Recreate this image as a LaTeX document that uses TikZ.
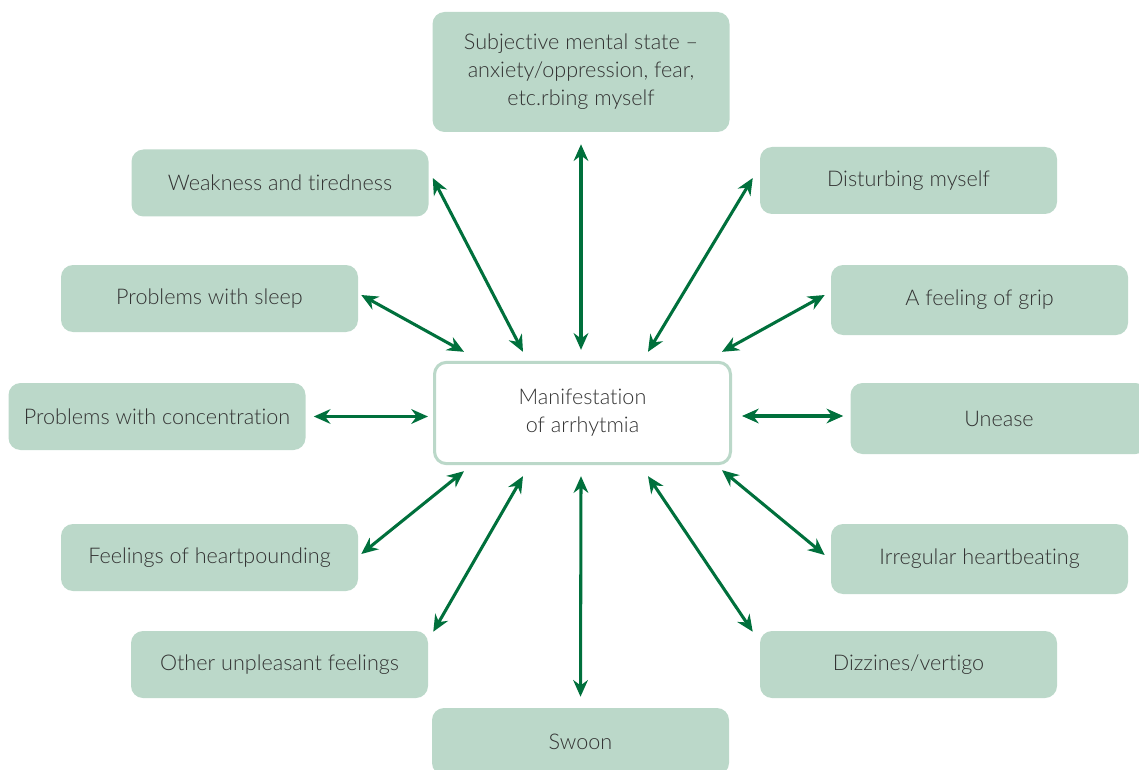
\documentclass[tikz,border=0pt]{standalone}
\usepackage{fontspec}
\setmainfont{Lato}[UprightFont=* Light,Ligatures=NoCommon]
\usetikzlibrary{arrows.meta}
\definecolor{boxfill}{HTML}{BBD8C9}
\definecolor{arrgreen}{HTML}{00703C}
\definecolor{txt}{HTML}{333333}
\begin{document}
\begin{tikzpicture}[x=0.75pt,y=-0.75pt,
  box/.style={fill=boxfill,draw=none,rounded corners=9pt,minimum width=222.75pt,minimum height=50.25pt,
    inner sep=0pt,align=center,text=txt,font=\fontsize{16.2}{21}\selectfont},
  hub/.style={fill=white,draw=boxfill,line width=2.25pt,rounded corners=9pt,minimum width=222pt,minimum height=76pt,
    inner sep=0pt,align=center,text=txt,font=\fontsize{16.2}{21}\selectfont},
  arr/.style={draw=arrgreen,line width=2.3pt,{Stealth[length=12.5pt,width=11pt]}-{Stealth[length=12.5pt,width=11pt]}}]
\useasboundingbox (0,0) rectangle (1139,770);
\node[hub] (c) at (582.5,413) {Manifestation\\of arrhytmia};
\node[box,minimum height=90pt] (t) at (581,72) {Subjective mental state –\\anxiety/oppression, fear,\\etc.rbing myself};
\node[box] (w) at (280,183) {Weakness and tiredness};
\node[box] (d) at (908.5,180.5) {Disturbing myself};
\node[box] (s) at (209.5,298.5) {Problems with sleep};
\node[box,minimum height=52.5pt] (g) at (979.5,300) {A feeling of grip};
\node[box] (k) at (157,416.5) {Problems with concentration};
\node[box,minimum height=53.25pt] (u) at (999,418.5) {Unease};
\node[box] (h) at (209.5,557.5) {Feelings of heartpounding};
\node[box,minimum height=52.5pt] (i) at (979.5,559) {Irregular heartbeating};
\node[box] (o) at (279.5,664.5) {Other unpleasant feelings};
\node[box] (z) at (908.5,664.5) {Dizzines/vertigo};
\node[box] (sw) at (580.5,741.5) {Swoon};
% connectors
\draw[arr] ([shift={(0,12)}]t.south) -- ([shift={(-1.5,-11)}]c.north);
\draw[arr] ([shift={(4,-5)}]w.east) -- ([shift={(90,-9)}]c.north west);
\draw[arr] ([shift={(-7,-2.5)}]d.west) -- ([shift={(-84,-9)}]c.north east);
\draw[arr] ([shift={(3,-3.5)}]s.east) -- ([shift={(31,-9)}]c.north west);
\draw[arr] ([shift={(-6,-5)}]g.west) -- ([shift={(-10,-9)}]c.north east);
\draw[arr] ([shift={(8,0)}]k.east) -- ([shift={(-5,0)}]c.west |- k.east);
\draw[arr] ([shift={(-7,-2.5)}]u.west) -- ([shift={(10,-2.5)}]c.east |- u.west);
\draw[arr] ([shift={(3,-3.5)}]h.east) -- ([shift={(31,6)}]c.south west);
\draw[arr] ([shift={(-6,-4)}]i.west) -- ([shift={(-10,5)}]c.south east);
\draw[arr] ([shift={(5,1)}]o.north east) -- ([shift={(90,11)}]c.south west);
\draw[arr] ([shift={(-7,1)}]z.north west) -- ([shift={(-84,11)}]c.south east);
\draw[arr] ([shift={(0,-11)}]sw.north) -- ([shift={(-1.5,11)}]c.south);
\end{tikzpicture}
\end{document}
